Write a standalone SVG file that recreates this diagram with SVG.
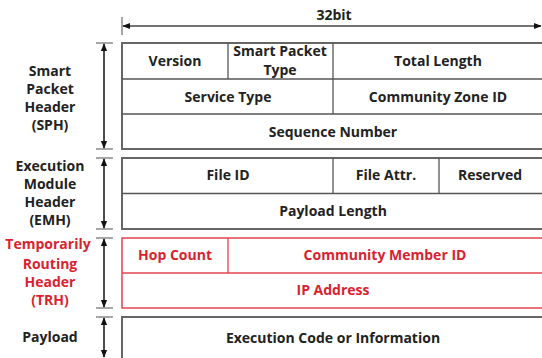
<svg xmlns="http://www.w3.org/2000/svg" width="542" height="358" viewBox="0 0 542 358">
<style>
text{font-family:"Open Sans","Noto Sans","DejaVu Sans",sans-serif;font-weight:bold;font-size:14px;text-anchor:middle;fill:#222}
.red{fill:#d8232f}
.box{fill:#fff;stroke:#666;stroke-width:2}
.in{stroke:#555;stroke-width:1.3;fill:none}
.rbox{fill:#fff;stroke:#e0454d;stroke-width:1.5}
.rin{stroke:#e0454d;stroke-width:1.3;fill:none}
.tick{stroke:#777;stroke-width:1.3}
.arr{stroke:#111;stroke-width:1.5;fill:none;marker-start:url(#ah);marker-end:url(#ah)}
</style>
<defs>
<marker id="ah" viewBox="0 0 10 10" refX="9" refY="5" markerWidth="8" markerHeight="8" markerUnits="userSpaceOnUse" orient="auto-start-reverse">
<path d="M0,1 L10,5 L0,9 z" fill="#111"/>
</marker>
</defs>
<rect width="542" height="358" fill="#fff"/>
<g id="connectors">
<line class="tick" x1="122" y1="17" x2="122" y2="35"/>
<line class="arr" x1="123" y1="26" x2="541" y2="26" style="stroke:#444"/>
<line class="tick" x1="96" y1="43" x2="113" y2="43"/>
<line class="tick" x1="96" y1="149" x2="113" y2="149"/>
<line class="tick" x1="96" y1="158" x2="113" y2="158"/>
<line class="tick" x1="96" y1="229" x2="113" y2="229"/>
<line class="tick" x1="96" y1="238" x2="113" y2="238"/>
<line class="tick" x1="96" y1="308" x2="113" y2="308"/>
<line class="tick" x1="96" y1="317" x2="113" y2="317"/>
<line class="arr" x1="104" y1="44" x2="104" y2="148"/>
<line class="arr" x1="104" y1="159" x2="104" y2="228"/>
<line class="arr" x1="104" y1="239" x2="104" y2="307"/>
<line class="arr" x1="104" y1="318" x2="104" y2="357"/>
</g>
<g id="width-label"><text x="334" y="20">32bit</text></g>
<g id="sph">
<rect class="box" x="122" y="43" width="430" height="106"/>
<line class="in" x1="122" y1="79" x2="545" y2="79"/>
<line class="in" x1="122" y1="114" x2="545" y2="114"/>
<line class="in" x1="228" y1="43" x2="228" y2="79"/>
<line class="in" x1="333" y1="43" x2="333" y2="114"/>
<text x="175" y="66">Version</text>
<text x="280" y="56">Smart Packet</text>
<text x="280" y="75">Type</text>
<text x="438" y="66">Total Length</text>
<text x="228" y="102">Service Type</text>
<text x="438" y="102">Community Zone ID</text>
<text x="333" y="137">Sequence Number</text>
<text x="50" y="76">Smart</text>
<text x="50" y="94">Packet</text>
<text x="50" y="112">Header</text>
<text x="50" y="130">(SPH)</text>
</g>
<g id="emh">
<rect class="box" x="122" y="158" width="430" height="71"/>
<line class="in" x1="122" y1="193.5" x2="545" y2="193.5"/>
<line class="in" x1="333" y1="158" x2="333" y2="193.5"/>
<line class="in" x1="439" y1="158" x2="439" y2="193.5"/>
<text x="228" y="180">File ID</text>
<text x="386" y="180">File Attr.</text>
<text x="490" y="180">Reserved</text>
<text x="333" y="216">Payload Length</text>
<text x="50" y="171">Execution</text>
<text x="50" y="189">Module</text>
<text x="50" y="207">Header</text>
<text x="50" y="225">(EMH)</text>
</g>
<g id="trh">
<rect class="rbox" x="122" y="238" width="430" height="70"/>
<line class="rin" x1="122" y1="273" x2="545" y2="273"/>
<line class="rin" x1="228" y1="238" x2="228" y2="273"/>
<text class="red" x="175" y="260">Hop Count</text>
<text class="red" x="385" y="260">Community Member ID</text>
<text class="red" x="333" y="295">IP Address</text>
<text class="red" x="48" y="249">Temporarily</text>
<text class="red" x="50" y="269">Routing</text>
<text class="red" x="50" y="287">Header</text>
<text class="red" x="50" y="305">(TRH)</text>
</g>
<g id="payload">
<rect class="box" x="122" y="317" width="430" height="60"/>
<text x="333" y="343">Execution Code or Information</text>
<text x="50" y="342">Payload</text>
</g>
</svg>
